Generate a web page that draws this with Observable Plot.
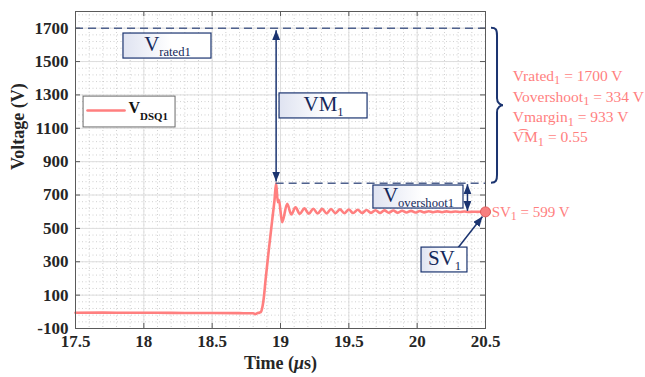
<!DOCTYPE html>
<html>
<head>
<meta charset="utf-8">
<script src="https://cdn.jsdelivr.net/npm/d3@7"></script>
<script src="https://cdn.jsdelivr.net/npm/@observablehq/plot@0.6"></script>
<style>
  html, body { margin: 0; padding: 0; background: #fff; }
  #chart svg { display: block; overflow: visible; }
</style>
</head>
<body>
<div id="chart"></div>
<script>
// ---------- data ----------
const xTicks = [17.5, 18, 18.5, 19, 19.5, 20, 20.5];
const yTicks = [-100, 100, 300, 500, 700, 900, 1100, 1300, 1500, 1700];

// drain-source voltage of Q1, time in microseconds
const tUs = [
  17.5, 17.7, 17.9, 18.1, 18.3, 18.5, 18.7, 18.8, 18.815, 18.83, 18.845, 18.855,
  18.868, 18.88, 18.89, 18.914, 18.939, 18.956, 18.968, 18.98, 18.988, 19.012,
  19.049, 19.078, 19.110, 19.141, 19.175, 19.207, 19.240, 19.272, 19.305, 19.337,
  19.370, 19.402, 19.435, 19.467, 19.500, 19.532, 19.565, 19.597, 19.630, 19.662,
  19.695, 19.727, 19.760, 19.792, 19.825, 19.857, 19.890, 19.922, 19.955, 19.987,
  20.020, 20.052, 20.085, 20.117, 20.150, 20.182, 20.215, 20.247, 20.280, 20.312,
  20.345, 20.377, 20.410, 20.442, 20.475, 20.5
];
const vDS = [
  -6, -5, -6, -6, -7, -7, -8, -9, -14, -8, -5, -2,
  30, 100, 185, 368, 548, 668, 771, 657, 671, 537,
  648, 584, 626, 587, 620, 588, 618, 589, 617, 590,
  616, 591, 614, 591, 613, 592, 612, 592, 610, 593,
  609, 593, 608, 594, 607, 594, 606, 595, 605, 595,
  604, 596, 603, 597, 602, 597, 602, 598, 601, 598,
  601, 598, 600, 599, 600, 599
];

const vRated = 1700;
const vPeak = 771;
const vSteady = 599;
const tPeak = 18.968;
const tEnd = 20.5;

// annotation boxes
const boxLabels = ["V_{rated1}", "VM_{1}", "V_{overshoot1}", "SV_{1}"];
const boxT1 = [17.851, 18.993, 19.680, 20.032];
const boxT2 = [18.495, 19.637, 20.339, 20.368];
const boxV1 = [1518, 1159, 619, 236];
const boxV2 = [1668, 1309, 757, 385];

// arrows
const arrowT1 = [tPeak, 20.368, 20.295];
const arrowV1 = [781, 605, 380];
const arrowT2 = [tPeak, 20.368, 20.478];
const arrowV2 = [1688, 765, 571];
const arrowBoth = [true, true, false];

// summary notes on the right
const noteLines = ["Vrated_{1} = 1700 V", "Vovershoot_{1} = 334 V", "Vmargin_{1} = 933 V", "V\u0361M_{1} = 0.55"];
const noteV = [1416, 1290, 1165, 1045];
const noteT = 20.70;
const svNote = "SV_{1} = 599 V";
const svNoteT = 20.545;
const braceT = 20.544;

// legend placement (data units)
const legendBox = {t1: 17.559, t2: 18.232, v1: 1105, v2: 1290};
const legendLine = [{t: 17.588, v: 1207}, {t: 17.859, v: 1207}];
const legendText = {t: 17.888, v: 1207, label: "V_{DSQ1}"};

// ---------- derived tables ----------
const wave = tUs.map((t, i) => ({t, v: vDS[i]}));
const boxes = boxLabels.map((label, i) => ({label, t1: boxT1[i], t2: boxT2[i], v1: boxV1[i], v2: boxV2[i]}));
const arrows = arrowT1.map((t1, i) => ({t1, v1: arrowV1[i], t2: arrowT2[i], v2: arrowV2[i], both: arrowBoth[i]}));
const notes = noteLines.map((label, i) => ({label, t: noteT, v: noteV[i]}));
const dashLines = [{v: vRated, t1: 17.5, t2: tEnd}, {v: vPeak, t1: tPeak, t2: tEnd}];
const xMinor = d3.range(17.5, 20.5001, 0.1);
const yMinor = d3.range(-100, 1800.1, 40);
const xMajor = xTicks;

const NAVY = "#1b3470";
const DASH = "#4f618d";
const RED = "#ff7f7f";
const SERIF = "Liberation Serif, Times New Roman, serif";

const chart = Plot.plot({
  width: 645,
  height: 377,
  marginLeft: 75,
  marginRight: 160,
  marginTop: 11,
  marginBottom: 49,
  style: {fontFamily: SERIF, background: "#fff", overflow: "visible"},
  x: {domain: [17.5, 20.5]},
  y: {domain: [-100, 1800]},
  marks: [
    // grid
    Plot.ruleX(xMinor, {stroke: "#c4c4c4", strokeDasharray: "1,2.5", strokeWidth: 0.8}),
    Plot.ruleY(yMinor, {stroke: "#c4c4c4", strokeDasharray: "1,2.5", strokeWidth: 0.8}),
    Plot.ruleX(xMajor, {stroke: "#dedede", strokeWidth: 1}),
    Plot.ruleY(yTicks, {stroke: "#dedede", strokeWidth: 1}),
    // waveform
    Plot.line(wave, {x: "t", y: "v", stroke: RED, strokeWidth: 2.6, curve: "monotone-x"}),
    // dashed reference lines
    Plot.ruleY(dashLines, {y: "v", x1: "t1", x2: "t2", stroke: DASH, strokeWidth: 1.6, strokeDasharray: "8,5"}),
    // arrows
    Plot.link(arrows, {x1: "t1", y1: "v1", x2: "t2", y2: "v2", stroke: NAVY, strokeWidth: 1.5, ariaDescription: "arrows"}),
    // boxes
    Plot.rect(boxes, {x1: "t1", x2: "t2", y1: "v1", y2: "v2", fill: "url(#boxgrad)", stroke: NAVY, strokeWidth: 1.2}),
    Plot.text(boxes, {x: d => (d.t1 + d.t2) / 2, y: d => (d.v1 + d.v2) / 2, text: "label", fontSize: 21,
      fontFamily: SERIF, fill: "#14285a", textAnchor: "middle", lineAnchor: "middle", dy: -2, ariaDescription: "box-labels"}),
    // notes
    Plot.text(notes, {x: "t", y: "v", text: "label", fontSize: 15.5, fontFamily: SERIF, fill: RED,
      textAnchor: "start", lineAnchor: "middle", ariaDescription: "notes"}),
    Plot.text([{t: svNoteT, v: vSteady, label: svNote}], {x: "t", y: "v", text: "label", fontSize: 15,
      fontFamily: SERIF, fill: RED, textAnchor: "start", lineAnchor: "middle", ariaDescription: "notes"}),
    // legend
    Plot.rect([legendBox], {x1: "t1", x2: "t2", y1: "v1", y2: "v2", fill: "#fff", stroke: "#6a6a6a", strokeWidth: 1}),
    Plot.line(legendLine, {x: "t", y: "v", stroke: RED, strokeWidth: 2.6}),
    Plot.text([legendText], {x: "t", y: "v", text: "label", fontSize: 16, fontWeight: "bold", fontFamily: SERIF,
      fill: "#111", textAnchor: "start", lineAnchor: "middle", dy: -3, ariaDescription: "legend-text"}),
    // frame and inward ticks
    Plot.frame({stroke: "#5a5a5a", strokeWidth: 1}),
    Plot.ruleX(xTicks, {stroke: "#5a5a5a", insetTop: 312}),
    Plot.ruleX(xTicks, {stroke: "#5a5a5a", insetBottom: 312}),
    Plot.ruleY(yTicks, {stroke: "#5a5a5a", insetRight: 405}),
    Plot.ruleY(yTicks, {stroke: "#5a5a5a", insetLeft: 405}),
    // axes
    Plot.axisX(xTicks, {anchor: "bottom", tickSize: 0, tickPadding: 6, fontSize: 17, fontWeight: "bold",
      fill: "#262626", tickFormat: d => String(d), label: null}),
    Plot.axisY(yTicks, {anchor: "left", tickSize: 0, tickPadding: 7, fontSize: 17, fontWeight: "bold",
      fill: "#262626", tickFormat: d => String(d), label: null}),
    Plot.text(["Voltage (V)"], {frameAnchor: "left", rotate: -90, dx: -57, fontSize: 18, fontWeight: "bold",
      fill: "#262626", fontFamily: SERIF}),
    Plot.text(["Time (~{\u03bc}s)"], {frameAnchor: "bottom", dy: 40, fontSize: 18, fontWeight: "bold",
      fill: "#262626", fontFamily: SERIF, ariaDescription: "xlabel"}),
    // steady-state marker
    Plot.dot([{t: tEnd, v: vSteady}], {x: "t", y: "v", r: 5, fill: "#f77f7f", stroke: "#e25a5a", strokeWidth: 1})
  ]
});

document.getElementById("chart").appendChild(chart);

// defs: gradient for boxes and filled arrowhead
const svg = d3.select(chart);
const defs = svg.insert("defs", ":first-child");
const grad = defs.append("linearGradient").attr("id", "boxgrad").attr("x1", "0").attr("x2", "1").attr("y1", "0").attr("y2", "0");
grad.append("stop").attr("offset", "0").attr("stop-color", "#dfe3f1");
grad.append("stop").attr("offset", "0.55").attr("stop-color", "#ffffff");
grad.append("stop").attr("offset", "1").attr("stop-color", "#ffffff");
defs.append("marker").attr("id", "ahead").attr("viewBox", "0 0 10 8").attr("refX", 10).attr("refY", 4)
  .attr("markerWidth", 10).attr("markerHeight", 8).attr("markerUnits", "userSpaceOnUse")
  .attr("orient", "auto-start-reverse")
  .append("path").attr("d", "M0,0L10,4L0,8Z").attr("fill", NAVY);

svg.selectAll('g[aria-description="arrows"] path, g[aria-description="arrows"] line').each(function(_, i) {
  this.setAttribute("marker-end", "url(#ahead)");
  if (arrows[i] && arrows[i].both) this.setAttribute("marker-start", "url(#ahead)");
});

// brace drawn from the scales
const xs = chart.scale("x"), ys = chart.scale("y");
{
  const bx = xs.apply(braceT), top = ys.apply(vRated), bot = ys.apply(vPeak), mid = (top + bot) / 2, w = 12;
  const h = bx + w * 0.5;
  const d = `M${bx},${top} C${bx + 5},${top} ${h},${top + 2} ${h},${top + 8} L${h},${mid - 7} C${h},${mid - 2} ${bx + w - 2},${mid} ${bx + w},${mid}` +
            ` C${bx + w - 2},${mid} ${h},${mid + 2} ${h},${mid + 7} L${h},${bot - 8} C${h},${bot - 2} ${bx + 5},${bot} ${bx},${bot}`;
  svg.append("path").attr("d", d).attr("fill", "none").attr("stroke", NAVY).attr("stroke-width", 2);
}

// rich text: _{sub} and ~{italic}; sizes chosen by the text's font size
function subParams(fs, bold) {
  if (fs >= 20) return [0.6, 0.24];      // box labels
  if (bold) return [0.68, 0.45];         // legend
  return [0.8, 0.22];                    // notes
}
svg.selectAll("text").each(function() {
  const s = this.textContent;
  if (!/[_~]\{/.test(s)) return;
  const cs = getComputedStyle(this);
  const fs = parseFloat(cs.fontSize) || 16;
  const bold = parseInt(cs.fontWeight) >= 600 || cs.fontWeight === "bold";
  const [r, sh] = subParams(fs, bold);
  const parts = s.split(/([_~]\{[^}]*\})/).filter(p => p !== "");
  while (this.firstChild) this.removeChild(this.firstChild);
  let shift = 0;
  for (const p of parts) {
    const ts = document.createElementNS("http://www.w3.org/2000/svg", "tspan");
    let dy;
    if (p.startsWith("_{")) {
      ts.textContent = p.slice(2, -1);
      ts.setAttribute("font-size", fs * r);
      dy = fs * sh - shift; shift = fs * sh;
    } else {
      if (p.startsWith("~{")) { ts.textContent = p.slice(2, -1); ts.setAttribute("font-style", "italic"); }
      else ts.textContent = p;
      dy = -shift; shift = 0;
    }
    if (dy) ts.setAttribute("dy", dy);
    this.appendChild(ts);
  }
});
</script>
</body>
</html>
